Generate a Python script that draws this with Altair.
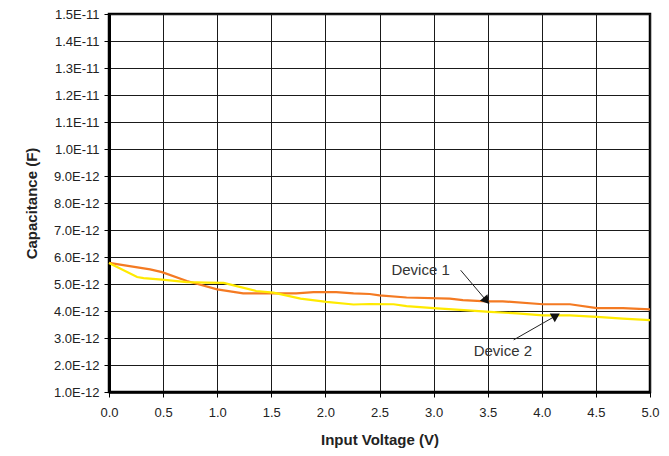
import altair as alt
import pandas as pd

# Device 1 (orange) — capacitance in pF
d1_v = [0.0, 0.38, 0.49, 0.72, 1.0, 1.24, 1.49, 1.73, 1.89, 2.1, 2.26, 2.41, 2.5, 2.75,
        3.15, 3.27, 3.49, 3.64, 4.01, 4.26, 4.51, 4.75, 5.0]
d1_c = [5.78, 5.54, 5.44, 5.11, 4.80, 4.65, 4.65, 4.65, 4.70, 4.70, 4.65, 4.63, 4.58, 4.50,
        4.46, 4.40, 4.36, 4.36, 4.25, 4.25, 4.11, 4.11, 4.06]

# Device 2 (yellow)
d2_v = [0.0, 0.26, 0.32, 0.49, 0.72, 0.9, 1.06, 1.18, 1.36, 1.52, 1.77, 2.01, 2.26, 2.41,
        2.63, 2.75, 3.0, 3.28, 3.52, 3.77, 4.01, 4.26, 4.51, 4.75, 5.0]
d2_c = [5.78, 5.26, 5.22, 5.16, 5.07, 5.05, 5.04, 4.92, 4.74, 4.68, 4.46, 4.34, 4.24, 4.26,
        4.25, 4.18, 4.11, 4.03, 3.97, 3.91, 3.84, 3.84, 3.78, 3.72, 3.66]

x_ticks = [0.0, 0.5, 1.0, 1.5, 2.0, 2.5, 3.0, 3.5, 4.0, 4.5, 5.0]
y_ticks_pF = [1, 2, 3, 4, 5, 6, 7, 8, 9, 10, 11, 12, 13, 14, 15]

# annotations: label, text position, arrow start, arrow end (V, pF), head angle
ann_labels = ["Device 1", "Device 2"]
ann_tx = [2.88, 3.64]
ann_ty = [5.52, 2.53]
ann_x1 = [3.25, 3.74]
ann_y1 = [5.51, 2.93]
ann_x2 = [3.48, 4.12]
ann_y2 = [4.42, 3.80]
ann_angle = [139, 60]

E = 1e-12
df = pd.DataFrame(
    [{"V": v, "C": c * E, "dev": "Device 1"} for v, c in zip(d1_v, d1_c)]
    + [{"V": v, "C": c * E, "dev": "Device 2"} for v, c in zip(d2_v, d2_c)]
)
ann = pd.DataFrame({
    "label": ann_labels, "tx": ann_tx, "ty": [t * E for t in ann_ty],
    "x2": ann_x2, "y2": [t * E for t in ann_y2], "angle": ann_angle,
})
arrow_df = pd.DataFrame(
    [{"label": l, "x": a, "y": b * E, "o": 0} for l, a, b in zip(ann_labels, ann_x1, ann_y1)]
    + [{"label": l, "x": a, "y": b * E, "o": 1} for l, a, b in zip(ann_labels, ann_x2, ann_y2)]
)

xs = alt.Scale(domain=[0, 5], nice=False)
ys = alt.Scale(domain=[1 * E, 15 * E], nice=False, zero=False)

common = dict(grid=True, gridColor="#1a1a1a", gridWidth=1,
              domainColor="black", tickColor="black", tickSize=5,
              labelFontSize=13, labelColor="#222", labelOverlap=False,
              labelBound=False, labelFlush=False,
              titleFontSize=15, titleFontWeight="bold", titleColor="#222")
xax = alt.Axis(values=x_ticks, format=".1f", title="Input Voltage (V)", tickCount=11,
               domainWidth=2.5, labelPadding=9, titlePadding=13, **common)
yax = alt.Axis(values=[t * E for t in y_ticks_pF], tickCount=15,
               labelExpr="replace(format(datum.value, '.1e'), 'e', 'E')",
               title="Capacitance (F)",
               domainWidth=3, labelPadding=5, titlePadding=14, **common)

lines = alt.Chart(df).mark_line(strokeWidth=2.2).encode(
    x=alt.X("V:Q", scale=xs, axis=xax),
    y=alt.Y("C:Q", scale=ys, axis=yax),
    color=alt.Color("dev:N", scale=alt.Scale(domain=["Device 1", "Device 2"],
                                             range=["#F47A22", "#FFEA00"]), legend=None),
)

arrows = alt.Chart(arrow_df).mark_line(color="#222", strokeWidth=1).encode(
    x="x:Q", y="y:Q", detail="label:N", order="o:Q")
heads = alt.Chart(ann).mark_point(shape="triangle", filled=True, color="#111",
                                  size=100, opacity=1).encode(
    x="x2:Q", y="y2:Q", angle=alt.Angle("angle:Q", scale=None))
texts = alt.Chart(ann).mark_text(fontSize=15, color="#333", font="Liberation Sans").encode(
    x="tx:Q", y="ty:Q", text="label:N")

chart = alt.layer(lines, arrows, heads, texts).properties(
    width=541, height=378,
    autosize=alt.AutoSizeParams(type="none"),
    padding={"left": 101, "top": 6, "right": 11, "bottom": 56},
).configure(font="Liberation Sans").configure_view(stroke="black", strokeWidth=2.5)

chart.save("out.html", embed_options={"renderer": "svg", "actions": False})
